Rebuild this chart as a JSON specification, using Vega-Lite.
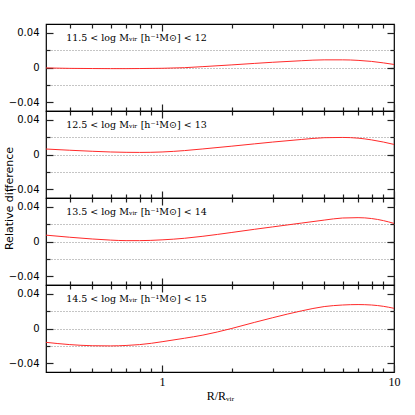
{
  "$schema": "https://vega.github.io/schema/vega-lite/v6.json",
  "padding": {"left": 2, "top": 22, "right": 5, "bottom": 5},
  "background": "white",
  "datasets": {
    "curves": [
      {"bin": "11.5", "x": 0.316, "y": -0.0005}, {"bin": "11.5", "x": 0.4, "y": -0.001}, {"bin": "11.5", "x": 0.5, "y": -0.0012}, {"bin": "11.5", "x": 0.6, "y": -0.0013}, {"bin": "11.5", "x": 0.7, "y": -0.0013}, {"bin": "11.5", "x": 0.8, "y": -0.0012}, {"bin": "11.5", "x": 1, "y": -0.0009}, {"bin": "11.5", "x": 1.25, "y": -0.0002}, {"bin": "11.5", "x": 1.5, "y": 0.001}, {"bin": "11.5", "x": 2, "y": 0.003}, {"bin": "11.5", "x": 2.5, "y": 0.0047}, {"bin": "11.5", "x": 3, "y": 0.006}, {"bin": "11.5", "x": 4, "y": 0.0078}, {"bin": "11.5", "x": 5, "y": 0.0088}, {"bin": "11.5", "x": 6, "y": 0.0088}, {"bin": "11.5", "x": 7, "y": 0.0082}, {"bin": "11.5", "x": 8, "y": 0.007}, {"bin": "11.5", "x": 9, "y": 0.0053}, {"bin": "11.5", "x": 10, "y": 0.0035},
      {"bin": "12.5", "x": 0.316, "y": 0.0063}, {"bin": "12.5", "x": 0.4, "y": 0.0049}, {"bin": "12.5", "x": 0.5, "y": 0.0037}, {"bin": "12.5", "x": 0.6, "y": 0.0029}, {"bin": "12.5", "x": 0.7, "y": 0.0025}, {"bin": "12.5", "x": 0.8, "y": 0.0024}, {"bin": "12.5", "x": 1, "y": 0.0029}, {"bin": "12.5", "x": 1.25, "y": 0.0045}, {"bin": "12.5", "x": 1.5, "y": 0.0064}, {"bin": "12.5", "x": 2, "y": 0.0096}, {"bin": "12.5", "x": 2.5, "y": 0.0122}, {"bin": "12.5", "x": 3, "y": 0.0143}, {"bin": "12.5", "x": 4, "y": 0.0173}, {"bin": "12.5", "x": 5, "y": 0.0193}, {"bin": "12.5", "x": 6, "y": 0.0196}, {"bin": "12.5", "x": 7, "y": 0.0188}, {"bin": "12.5", "x": 8, "y": 0.0168}, {"bin": "12.5", "x": 9, "y": 0.0143}, {"bin": "12.5", "x": 10, "y": 0.0116},
      {"bin": "13.5", "x": 0.316, "y": 0.0073}, {"bin": "13.5", "x": 0.4, "y": 0.0049}, {"bin": "13.5", "x": 0.5, "y": 0.0029}, {"bin": "13.5", "x": 0.6, "y": 0.0016}, {"bin": "13.5", "x": 0.7, "y": 0.001}, {"bin": "13.5", "x": 0.8, "y": 0.001}, {"bin": "13.5", "x": 1, "y": 0.0019}, {"bin": "13.5", "x": 1.25, "y": 0.0037}, {"bin": "13.5", "x": 1.5, "y": 0.006}, {"bin": "13.5", "x": 2, "y": 0.0104}, {"bin": "13.5", "x": 2.5, "y": 0.014}, {"bin": "13.5", "x": 3, "y": 0.0168}, {"bin": "13.5", "x": 4, "y": 0.0212}, {"bin": "13.5", "x": 5, "y": 0.0246}, {"bin": "13.5", "x": 6, "y": 0.027}, {"bin": "13.5", "x": 7, "y": 0.0274}, {"bin": "13.5", "x": 8, "y": 0.0264}, {"bin": "13.5", "x": 9, "y": 0.024}, {"bin": "13.5", "x": 10, "y": 0.0208},
      {"bin": "14.5", "x": 0.316, "y": -0.0159}, {"bin": "14.5", "x": 0.4, "y": -0.0185}, {"bin": "14.5", "x": 0.5, "y": -0.0198}, {"bin": "14.5", "x": 0.6, "y": -0.02}, {"bin": "14.5", "x": 0.7, "y": -0.0195}, {"bin": "14.5", "x": 0.8, "y": -0.0185}, {"bin": "14.5", "x": 0.9, "y": -0.017}, {"bin": "14.5", "x": 1, "y": -0.0152}, {"bin": "14.5", "x": 1.25, "y": -0.0112}, {"bin": "14.5", "x": 1.5, "y": -0.0076}, {"bin": "14.5", "x": 2, "y": 0.0001}, {"bin": "14.5", "x": 2.5, "y": 0.007}, {"bin": "14.5", "x": 3, "y": 0.0124}, {"bin": "14.5", "x": 4, "y": 0.0203}, {"bin": "14.5", "x": 5, "y": 0.0252}, {"bin": "14.5", "x": 6, "y": 0.027}, {"bin": "14.5", "x": 7, "y": 0.0275}, {"bin": "14.5", "x": 8, "y": 0.027}, {"bin": "14.5", "x": 9, "y": 0.0255}, {"bin": "14.5", "x": 10, "y": 0.0232}
    ],
    "labels": [
      {"bin": "11.5", "label": "11.5   <   log Mᵥᵢᵣ [h⁻¹M⊙]   <   12"},
      {"bin": "12.5", "label": "12.5   <   log Mᵥᵢᵣ [h⁻¹M⊙]   <   13"},
      {"bin": "13.5", "label": "13.5   <   log Mᵥᵢᵣ [h⁻¹M⊙]   <   14"},
      {"bin": "14.5", "label": "14.5   <   log Mᵥᵢᵣ [h⁻¹M⊙]   <   15"}
    ]
  },
  "spacing": 0,
  "bounds": "flush",
  "vconcat": [
    {
      "width": 348, "height": 87,
      "layer": [
        {"data": {"name": "curves"}, "transform": [{"filter": "datum.bin == '11.5'"}],
         "mark": {"type": "line", "color": "#ff2a2a", "strokeWidth": 1, "interpolate": "monotone", "clip": true},
         "encoding": {
           "x": {"field": "x", "type": "quantitative", "scale": {"type": "log", "domain": [0.316, 10], "nice": false},
                 "axis": {"orient": "bottom", "values": [0.4,0.5,0.6,0.7,0.8,0.9,2,3,4,5,6,7,8,9], "tickSize": -4, "tickColor": "#222", "tickWidth": 1.2, "domain": false, "grid": false, "labels": false, "title": null}},
           "y": {"field": "y", "type": "quantitative", "scale": {"domain": [-0.05, 0.05], "nice": false, "zero": false},
                 "axis": {"orient": "left", "values": [-0.04, 0, 0.04], "tickSize": -7, "tickColor": "#222", "tickWidth": 1.2, "domain": false, "grid": false, "labelPadding": 14, "labelFont": "DejaVu Sans", "labelFontSize": 10, "labelColor": "#000", "labelExpr": "datum.value == 0 ? '0' : format(datum.value, '.2f')", "title": null}}}},
        {"data": {"name": "curves"}, "transform": [{"filter": "datum.bin == '11.5'"}],
         "mark": {"type": "line", "opacity": 0},
         "encoding": {
           "x": {"field": "x", "type": "quantitative", "axis": {"orient": "top", "values": [0.4,0.5,0.6,0.7,0.8,0.9,2,3,4,5,6,7,8,9], "tickSize": -4, "tickColor": "#222", "tickWidth": 1.2, "domain": false, "grid": false, "labels": false, "title": null}},
           "y": {"field": "y", "type": "quantitative", "axis": {"orient": "right", "values": [-0.02, 0, 0.02], "tickSize": -4, "tickColor": "#222", "tickWidth": 1.2, "domain": false, "grid": true, "gridDash": [1, 2], "gridColor": "#8a8a8a", "labels": false, "title": null}}}},
        {"data": {"name": "curves"}, "transform": [{"filter": "datum.bin == '11.5'"}],
         "mark": {"type": "line", "opacity": 0},
         "encoding": {
           "x": {"field": "x", "type": "quantitative", "axis": {"orient": "bottom", "values": [1, 10], "tickSize": -7, "tickColor": "#222", "tickWidth": 1.2, "domain": false, "grid": false, "labels": false, "title": null}},
           "y": {"field": "y", "type": "quantitative", "axis": {"orient": "right", "values": [-0.04, 0, 0.04], "tickSize": -7, "tickColor": "#222", "tickWidth": 1.2, "domain": false, "grid": false, "labels": false, "title": null}}}},
        {"data": {"name": "curves"}, "transform": [{"filter": "datum.bin == '11.5'"}],
         "mark": {"type": "line", "opacity": 0},
         "encoding": {
           "x": {"field": "x", "type": "quantitative", "axis": {"orient": "top", "values": [1, 10], "tickSize": -7, "tickColor": "#222", "tickWidth": 1.2, "domain": false, "grid": false, "labels": false, "title": null}},
           "y": {"field": "y", "type": "quantitative", "axis": {"orient": "left", "values": [-0.02, 0.02], "tickSize": -4, "tickColor": "#222", "tickWidth": 1.2, "domain": false, "grid": false, "labels": false, "title": null}}}},
        {"data": {"name": "labels"}, "transform": [{"filter": "datum.bin == '11.5'"}],
         "mark": {"type": "text", "align": "left", "baseline": "middle", "font": "DejaVu Serif", "fontSize": 9.5, "color": "#000"},
         "encoding": {
           "x": {"datum": 0.386, "type": "quantitative", "axis": null},
           "y": {"datum": 0.0335, "type": "quantitative", "axis": null},
           "text": {"field": "label"}}}
      ],
      "resolve": {"axis": {"x": "independent", "y": "independent"}}
    },
    {
      "width": 348, "height": 87,
      "layer": [
        {"data": {"name": "curves"}, "transform": [{"filter": "datum.bin == '12.5'"}],
         "mark": {"type": "line", "color": "#ff2a2a", "strokeWidth": 1, "interpolate": "monotone", "clip": true},
         "encoding": {
           "x": {"field": "x", "type": "quantitative", "scale": {"type": "log", "domain": [0.316, 10], "nice": false},
                 "axis": {"orient": "bottom", "values": [0.4,0.5,0.6,0.7,0.8,0.9,2,3,4,5,6,7,8,9], "tickSize": -4, "tickColor": "#222", "tickWidth": 1.2, "domain": false, "grid": false, "labels": false, "title": null}},
           "y": {"field": "y", "type": "quantitative", "scale": {"domain": [-0.05, 0.05], "nice": false, "zero": false},
                 "axis": {"orient": "left", "values": [-0.04, 0, 0.04], "tickSize": -7, "tickColor": "#222", "tickWidth": 1.2, "domain": false, "grid": false, "labelPadding": 14, "labelFont": "DejaVu Sans", "labelFontSize": 10, "labelColor": "#000", "labelExpr": "datum.value == 0 ? '0' : format(datum.value, '.2f')",
                          "title": "Relative difference", "titleX": -36.5, "titleY": 87, "titleAngle": -90, "titleAlign": "center", "titleBaseline": "middle", "titleFont": "DejaVu Sans", "titleFontSize": 11, "titleFontWeight": "normal", "titleColor": "#000"}}}},
        {"data": {"name": "curves"}, "transform": [{"filter": "datum.bin == '12.5'"}],
         "mark": {"type": "line", "opacity": 0},
         "encoding": {
           "x": {"field": "x", "type": "quantitative", "axis": {"orient": "top", "values": [0.4,0.5,0.6,0.7,0.8,0.9,2,3,4,5,6,7,8,9], "tickSize": -4, "tickColor": "#222", "tickWidth": 1.2, "domain": false, "grid": false, "labels": false, "title": null}},
           "y": {"field": "y", "type": "quantitative", "axis": {"orient": "right", "values": [-0.02, 0, 0.02], "tickSize": -4, "tickColor": "#222", "tickWidth": 1.2, "domain": false, "grid": true, "gridDash": [1, 2], "gridColor": "#8a8a8a", "labels": false, "title": null}}}},
        {"data": {"name": "curves"}, "transform": [{"filter": "datum.bin == '12.5'"}],
         "mark": {"type": "line", "opacity": 0},
         "encoding": {
           "x": {"field": "x", "type": "quantitative", "axis": {"orient": "bottom", "values": [1, 10], "tickSize": -7, "tickColor": "#222", "tickWidth": 1.2, "domain": false, "grid": false, "labels": false, "title": null}},
           "y": {"field": "y", "type": "quantitative", "axis": {"orient": "right", "values": [-0.04, 0, 0.04], "tickSize": -7, "tickColor": "#222", "tickWidth": 1.2, "domain": false, "grid": false, "labels": false, "title": null}}}},
        {"data": {"name": "curves"}, "transform": [{"filter": "datum.bin == '12.5'"}],
         "mark": {"type": "line", "opacity": 0},
         "encoding": {
           "x": {"field": "x", "type": "quantitative", "axis": {"orient": "top", "values": [1, 10], "tickSize": -7, "tickColor": "#222", "tickWidth": 1.2, "domain": false, "grid": false, "labels": false, "title": null}},
           "y": {"field": "y", "type": "quantitative", "axis": {"orient": "left", "values": [-0.02, 0.02], "tickSize": -4, "tickColor": "#222", "tickWidth": 1.2, "domain": false, "grid": false, "labels": false, "title": null}}}},
        {"data": {"name": "labels"}, "transform": [{"filter": "datum.bin == '12.5'"}],
         "mark": {"type": "text", "align": "left", "baseline": "middle", "font": "DejaVu Serif", "fontSize": 9.5, "color": "#000"},
         "encoding": {
           "x": {"datum": 0.386, "type": "quantitative", "axis": null},
           "y": {"datum": 0.0335, "type": "quantitative", "axis": null},
           "text": {"field": "label"}}}
      ],
      "resolve": {"axis": {"x": "independent", "y": "independent"}}
    },
    {
      "width": 348, "height": 87,
      "layer": [
        {"data": {"name": "curves"}, "transform": [{"filter": "datum.bin == '13.5'"}],
         "mark": {"type": "line", "color": "#ff2a2a", "strokeWidth": 1, "interpolate": "monotone", "clip": true},
         "encoding": {
           "x": {"field": "x", "type": "quantitative", "scale": {"type": "log", "domain": [0.316, 10], "nice": false},
                 "axis": {"orient": "bottom", "values": [0.4,0.5,0.6,0.7,0.8,0.9,2,3,4,5,6,7,8,9], "tickSize": -4, "tickColor": "#222", "tickWidth": 1.2, "domain": false, "grid": false, "labels": false, "title": null}},
           "y": {"field": "y", "type": "quantitative", "scale": {"domain": [-0.05, 0.05], "nice": false, "zero": false},
                 "axis": {"orient": "left", "values": [-0.04, 0, 0.04], "tickSize": -7, "tickColor": "#222", "tickWidth": 1.2, "domain": false, "grid": false, "labelPadding": 14, "labelFont": "DejaVu Sans", "labelFontSize": 10, "labelColor": "#000", "labelExpr": "datum.value == 0 ? '0' : format(datum.value, '.2f')", "title": null}}}},
        {"data": {"name": "curves"}, "transform": [{"filter": "datum.bin == '13.5'"}],
         "mark": {"type": "line", "opacity": 0},
         "encoding": {
           "x": {"field": "x", "type": "quantitative", "axis": {"orient": "top", "values": [0.4,0.5,0.6,0.7,0.8,0.9,2,3,4,5,6,7,8,9], "tickSize": -4, "tickColor": "#222", "tickWidth": 1.2, "domain": false, "grid": false, "labels": false, "title": null}},
           "y": {"field": "y", "type": "quantitative", "axis": {"orient": "right", "values": [-0.02, 0, 0.02], "tickSize": -4, "tickColor": "#222", "tickWidth": 1.2, "domain": false, "grid": true, "gridDash": [1, 2], "gridColor": "#8a8a8a", "labels": false, "title": null}}}},
        {"data": {"name": "curves"}, "transform": [{"filter": "datum.bin == '13.5'"}],
         "mark": {"type": "line", "opacity": 0},
         "encoding": {
           "x": {"field": "x", "type": "quantitative", "axis": {"orient": "bottom", "values": [1, 10], "tickSize": -7, "tickColor": "#222", "tickWidth": 1.2, "domain": false, "grid": false, "labels": false, "title": null}},
           "y": {"field": "y", "type": "quantitative", "axis": {"orient": "right", "values": [-0.04, 0, 0.04], "tickSize": -7, "tickColor": "#222", "tickWidth": 1.2, "domain": false, "grid": false, "labels": false, "title": null}}}},
        {"data": {"name": "curves"}, "transform": [{"filter": "datum.bin == '13.5'"}],
         "mark": {"type": "line", "opacity": 0},
         "encoding": {
           "x": {"field": "x", "type": "quantitative", "axis": {"orient": "top", "values": [1, 10], "tickSize": -7, "tickColor": "#222", "tickWidth": 1.2, "domain": false, "grid": false, "labels": false, "title": null}},
           "y": {"field": "y", "type": "quantitative", "axis": {"orient": "left", "values": [-0.02, 0.02], "tickSize": -4, "tickColor": "#222", "tickWidth": 1.2, "domain": false, "grid": false, "labels": false, "title": null}}}},
        {"data": {"name": "labels"}, "transform": [{"filter": "datum.bin == '13.5'"}],
         "mark": {"type": "text", "align": "left", "baseline": "middle", "font": "DejaVu Serif", "fontSize": 9.5, "color": "#000"},
         "encoding": {
           "x": {"datum": 0.386, "type": "quantitative", "axis": null},
           "y": {"datum": 0.0335, "type": "quantitative", "axis": null},
           "text": {"field": "label"}}}
      ],
      "resolve": {"axis": {"x": "independent", "y": "independent"}}
    },
    {
      "width": 348, "height": 87,
      "layer": [
        {"data": {"name": "curves"}, "transform": [{"filter": "datum.bin == '14.5'"}],
         "mark": {"type": "line", "color": "#ff2a2a", "strokeWidth": 1, "interpolate": "monotone", "clip": true},
         "encoding": {
           "x": {"field": "x", "type": "quantitative", "scale": {"type": "log", "domain": [0.316, 10], "nice": false},
                 "axis": {"orient": "bottom", "values": [0.4,0.5,0.6,0.7,0.8,0.9,2,3,4,5,6,7,8,9], "tickSize": -4, "tickColor": "#222", "tickWidth": 1.2, "domain": false, "grid": false, "labels": false, "title": null}},
           "y": {"field": "y", "type": "quantitative", "scale": {"domain": [-0.05, 0.05], "nice": false, "zero": false},
                 "axis": {"orient": "left", "values": [-0.04, 0, 0.04], "tickSize": -7, "tickColor": "#222", "tickWidth": 1.2, "domain": false, "grid": false, "labelPadding": 14, "labelFont": "DejaVu Sans", "labelFontSize": 10, "labelColor": "#000", "labelExpr": "datum.value == 0 ? '0' : format(datum.value, '.2f')", "title": null}}}},
        {"data": {"name": "curves"}, "transform": [{"filter": "datum.bin == '14.5'"}],
         "mark": {"type": "line", "opacity": 0},
         "encoding": {
           "x": {"field": "x", "type": "quantitative", "axis": {"orient": "top", "values": [0.4,0.5,0.6,0.7,0.8,0.9,2,3,4,5,6,7,8,9], "tickSize": -4, "tickColor": "#222", "tickWidth": 1.2, "domain": false, "grid": false, "labels": false, "title": null}},
           "y": {"field": "y", "type": "quantitative", "axis": {"orient": "right", "values": [-0.02, 0, 0.02], "tickSize": -4, "tickColor": "#222", "tickWidth": 1.2, "domain": false, "grid": true, "gridDash": [1, 2], "gridColor": "#8a8a8a", "labels": false, "title": null}}}},
        {"data": {"name": "curves"}, "transform": [{"filter": "datum.bin == '14.5'"}],
         "mark": {"type": "line", "opacity": 0},
         "encoding": {
           "x": {"field": "x", "type": "quantitative", "axis": {"orient": "bottom", "values": [1, 10], "tickSize": -7, "tickColor": "#222", "tickWidth": 1.2, "domain": false, "grid": false, "labelPadding": 11, "labelExpr": "datum.value == 1 ? '1' : '10'", "labelFlush": false, "labelOverlap": false, "labelFont": "Liberation Serif", "labelFontSize": 12, "labelColor": "#000",
                  "title": "R/Rᵥᵢᵣ", "titleFont": "Liberation Serif", "titleFontSize": 12, "titleFontWeight": "normal", "titleColor": "#000", "titlePadding": 3}},
           "y": {"field": "y", "type": "quantitative", "axis": {"orient": "right", "values": [-0.04, 0, 0.04], "tickSize": -7, "tickColor": "#222", "tickWidth": 1.2, "domain": false, "grid": false, "labels": false, "title": null}}}},
        {"data": {"name": "curves"}, "transform": [{"filter": "datum.bin == '14.5'"}],
         "mark": {"type": "line", "opacity": 0},
         "encoding": {
           "x": {"field": "x", "type": "quantitative", "axis": {"orient": "top", "values": [1, 10], "tickSize": -7, "tickColor": "#222", "tickWidth": 1.2, "domain": false, "grid": false, "labels": false, "title": null}},
           "y": {"field": "y", "type": "quantitative", "axis": {"orient": "left", "values": [-0.02, 0.02], "tickSize": -4, "tickColor": "#222", "tickWidth": 1.2, "domain": false, "grid": false, "labels": false, "title": null}}}},
        {"data": {"name": "labels"}, "transform": [{"filter": "datum.bin == '14.5'"}],
         "mark": {"type": "text", "align": "left", "baseline": "middle", "font": "DejaVu Serif", "fontSize": 9.5, "color": "#000"},
         "encoding": {
           "x": {"datum": 0.386, "type": "quantitative", "axis": null},
           "y": {"datum": 0.0335, "type": "quantitative", "axis": null},
           "text": {"field": "label"}}}
      ],
      "resolve": {"axis": {"x": "independent", "y": "independent"}}
    }
  ],
  "config": {
    "view": {"stroke": "#000", "strokeWidth": 1.2}
  }
}
